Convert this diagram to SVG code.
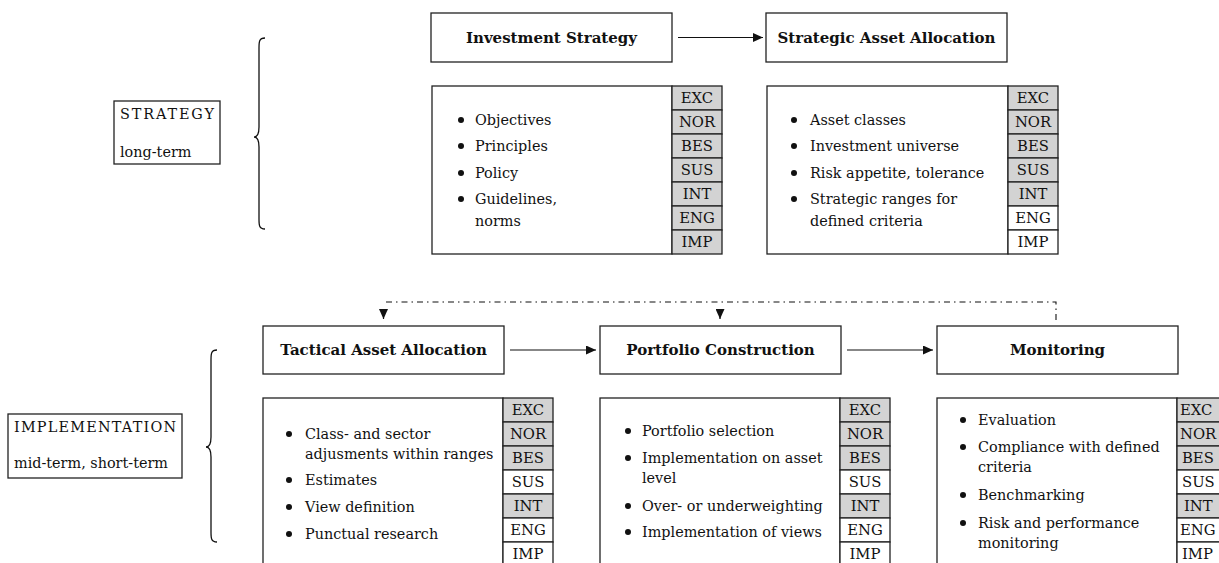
<svg xmlns="http://www.w3.org/2000/svg" width="1219" height="563" viewBox="0 0 1219 563" font-family="'DejaVu Serif','Liberation Serif',serif">
<style>
text{font-family:"DejaVu Serif","Liberation Serif",serif;font-size:14.4px;fill:#111}
.hdr{font-weight:bold;font-size:15px;text-anchor:middle}
.box{fill:#fff;stroke:#222;stroke-width:1.3}
.tg{stroke:#222;stroke-width:1.3}
.g{fill:#d3d3d3}
.w{fill:#fff}
.tt{text-anchor:middle;font-size:14.8px}
.tr{font-size:14.8px}
.arr{stroke:#111;stroke-width:1.2;fill:none}
.dash{stroke:#111;stroke-width:1.1;fill:none;stroke-dasharray:6 4 1.5 4}
.brace{stroke:#111;stroke-width:1.3;fill:none}
.bul{fill:#111}
</style>
<defs>
<marker id="ah" markerUnits="userSpaceOnUse" markerWidth="11" markerHeight="9" refX="10" refY="4.5" orient="auto">
<path d="M0,0 L10,4.5 L0,9 z" fill="#111"/>
</marker>
</defs>

<!-- Side labels -->
<g id="label-strategy">
<rect class="box" x="114" y="101" width="106" height="63"/>
<text x="120" y="119" textLength="94">STRATEGY</text>
<text x="120" y="157">long-term</text>
<path class="brace" d="M265,38 C259,38 259,42 259,48 L259,127 C259,133 258,137 254,137 C258,137 259,141 259,147 L259,219 C259,225 259,229 265,229"/>
</g>
<g id="label-implementation">
<rect class="box" x="8" y="414" width="174" height="64"/>
<text x="14" y="432" textLength="162">IMPLEMENTATION</text>
<text x="14" y="468">mid-term, short-term</text>
<path class="brace" d="M217,350 C211,350 211,354 211,360 L211,437 C211,443 210,447 206,447 C210,447 211,451 211,457 L211,532 C211,538 211,542 217,542"/>
</g>

<!-- Connectors -->
<g id="connectors">
<line class="arr" x1="678" y1="37.5" x2="763" y2="37.5" marker-end="url(#ah)"/>
<line class="arr" x1="510" y1="350" x2="596" y2="350" marker-end="url(#ah)"/>
<line class="arr" x1="847" y1="350" x2="933" y2="350" marker-end="url(#ah)"/>
<path class="dash" d="M1056,320 V302 H384"/>
<path class="arr" d="M383.5,309 V319" marker-end="url(#ah)"/>
<path class="arr" d="M720,309 V319" marker-end="url(#ah)"/>
</g>

<!-- Investment Strategy -->
<g id="investment-strategy">
<rect class="box" x="431" y="13" width="241" height="49"/>
<text class="hdr" x="551.5" y="43">Investment Strategy</text>
</g>
<g id="investment-strategy-details">
<rect class="box" x="432" y="86" width="240" height="168"/>
<circle class="bul" cx="461" cy="120" r="3"/><text x="475" y="125">Objectives</text>
<circle class="bul" cx="461" cy="146" r="3"/><text x="475" y="151">Principles</text>
<circle class="bul" cx="461" cy="173" r="3"/><text x="475" y="178">Policy</text>
<circle class="bul" cx="461" cy="199" r="3"/><text x="475" y="204">Guidelines,</text>
<text x="475" y="226">norms</text>
<rect class="tg g" x="672" y="86" width="50" height="24"/><text class="tt" x="697" y="103">EXC</text>
<rect class="tg g" x="672" y="110" width="50" height="24"/><text class="tt" x="697" y="127">NOR</text>
<rect class="tg g" x="672" y="134" width="50" height="24"/><text class="tt" x="697" y="151">BES</text>
<rect class="tg g" x="672" y="158" width="50" height="24"/><text class="tt" x="697" y="175">SUS</text>
<rect class="tg g" x="672" y="182" width="50" height="24"/><text class="tt" x="697" y="199">INT</text>
<rect class="tg g" x="672" y="206" width="50" height="24"/><text class="tt" x="697" y="223">ENG</text>
<rect class="tg g" x="672" y="230" width="50" height="24"/><text class="tt" x="697" y="247">IMP</text>
</g>

<!-- Strategic Asset Allocation -->
<g id="strategic-asset-allocation">
<rect class="box" x="766" y="13" width="241" height="49"/>
<text class="hdr" x="886.5" y="43">Strategic Asset Allocation</text>
</g>
<g id="strategic-asset-allocation-details">
<rect class="box" x="767" y="86" width="241" height="168"/>
<circle class="bul" cx="794" cy="120" r="3"/><text x="810" y="125">Asset classes</text>
<circle class="bul" cx="794" cy="146" r="3"/><text x="810" y="151">Investment universe</text>
<circle class="bul" cx="794" cy="173" r="3"/><text x="810" y="178">Risk appetite, tolerance</text>
<circle class="bul" cx="794" cy="199" r="3"/><text x="810" y="204">Strategic ranges for</text>
<text x="810" y="226">defined criteria</text>
<rect class="tg g" x="1008" y="86" width="50" height="24"/><text class="tt" x="1033" y="103">EXC</text>
<rect class="tg g" x="1008" y="110" width="50" height="24"/><text class="tt" x="1033" y="127">NOR</text>
<rect class="tg g" x="1008" y="134" width="50" height="24"/><text class="tt" x="1033" y="151">BES</text>
<rect class="tg g" x="1008" y="158" width="50" height="24"/><text class="tt" x="1033" y="175">SUS</text>
<rect class="tg g" x="1008" y="182" width="50" height="24"/><text class="tt" x="1033" y="199">INT</text>
<rect class="tg w" x="1008" y="206" width="50" height="24"/><text class="tt" x="1033" y="223">ENG</text>
<rect class="tg w" x="1008" y="230" width="50" height="24"/><text class="tt" x="1033" y="247">IMP</text>
</g>

<!-- Tactical Asset Allocation -->
<g id="tactical-asset-allocation">
<rect class="box" x="263" y="326" width="241" height="48"/>
<text class="hdr" x="383.5" y="355">Tactical Asset Allocation</text>
</g>
<g id="tactical-asset-allocation-details">
<rect class="box" x="263" y="398" width="240" height="180"/>
<circle class="bul" cx="289" cy="434" r="3"/><text x="305" y="439">Class- and sector</text>
<text x="305" y="459">adjusments within ranges</text>
<circle class="bul" cx="289" cy="480" r="3"/><text x="305" y="485">Estimates</text>
<circle class="bul" cx="289" cy="507" r="3"/><text x="305" y="512">View definition</text>
<circle class="bul" cx="289" cy="534" r="3"/><text x="305" y="539">Punctual research</text>
<rect class="tg g" x="503" y="398" width="50" height="24"/><text class="tt" x="528" y="415">EXC</text>
<rect class="tg g" x="503" y="422" width="50" height="24"/><text class="tt" x="528" y="439">NOR</text>
<rect class="tg g" x="503" y="446" width="50" height="24"/><text class="tt" x="528" y="463">BES</text>
<rect class="tg w" x="503" y="470" width="50" height="24"/><text class="tt" x="528" y="487">SUS</text>
<rect class="tg g" x="503" y="494" width="50" height="24"/><text class="tt" x="528" y="511">INT</text>
<rect class="tg w" x="503" y="518" width="50" height="24"/><text class="tt" x="528" y="535">ENG</text>
<rect class="tg w" x="503" y="542" width="50" height="24"/><text class="tt" x="528" y="559">IMP</text>
</g>

<!-- Portfolio Construction -->
<g id="portfolio-construction">
<rect class="box" x="600" y="326" width="241" height="48"/>
<text class="hdr" x="720.5" y="355">Portfolio Construction</text>
</g>
<g id="portfolio-construction-details">
<rect class="box" x="600" y="398" width="240" height="180"/>
<circle class="bul" cx="628" cy="431" r="3"/><text x="642" y="436">Portfolio selection</text>
<circle class="bul" cx="628" cy="458" r="3"/><text x="642" y="463">Implementation on asset</text>
<text x="642" y="483">level</text>
<circle class="bul" cx="628" cy="506" r="3"/><text x="642" y="511">Over- or underweighting</text>
<circle class="bul" cx="628" cy="532" r="3"/><text x="642" y="537">Implementation of views</text>
<rect class="tg g" x="840" y="398" width="50" height="24"/><text class="tt" x="865" y="415">EXC</text>
<rect class="tg g" x="840" y="422" width="50" height="24"/><text class="tt" x="865" y="439">NOR</text>
<rect class="tg g" x="840" y="446" width="50" height="24"/><text class="tt" x="865" y="463">BES</text>
<rect class="tg w" x="840" y="470" width="50" height="24"/><text class="tt" x="865" y="487">SUS</text>
<rect class="tg g" x="840" y="494" width="50" height="24"/><text class="tt" x="865" y="511">INT</text>
<rect class="tg w" x="840" y="518" width="50" height="24"/><text class="tt" x="865" y="535">ENG</text>
<rect class="tg w" x="840" y="542" width="50" height="24"/><text class="tt" x="865" y="559">IMP</text>
</g>

<!-- Monitoring -->
<g id="monitoring">
<rect class="box" x="937" y="326" width="241" height="48"/>
<text class="hdr" x="1057.5" y="355">Monitoring</text>
</g>
<g id="monitoring-details">
<rect class="box" x="937" y="398" width="240" height="180"/>
<circle class="bul" cx="963" cy="420" r="3"/><text x="978" y="425">Evaluation</text>
<circle class="bul" cx="963" cy="447" r="3"/><text x="978" y="452">Compliance with defined</text>
<text x="978" y="472">criteria</text>
<circle class="bul" cx="963" cy="495" r="3"/><text x="978" y="500">Benchmarking</text>
<circle class="bul" cx="963" cy="523" r="3"/><text x="978" y="528">Risk and performance</text>
<text x="978" y="548">monitoring</text>
<rect class="tg g" x="1177" y="398" width="50" height="24"/><text class="tr" x="1180" y="415">EXC</text>
<rect class="tg g" x="1177" y="422" width="50" height="24"/><text class="tr" x="1180" y="439">NOR</text>
<rect class="tg g" x="1177" y="446" width="50" height="24"/><text class="tr" x="1182" y="463">BES</text>
<rect class="tg w" x="1177" y="470" width="50" height="24"/><text class="tr" x="1182" y="487">SUS</text>
<rect class="tg g" x="1177" y="494" width="50" height="24"/><text class="tr" x="1184" y="511">INT</text>
<rect class="tg w" x="1177" y="518" width="50" height="24"/><text class="tr" x="1180" y="535">ENG</text>
<rect class="tg w" x="1177" y="542" width="50" height="24"/><text class="tr" x="1182" y="559">IMP</text>
</g>
</svg>
